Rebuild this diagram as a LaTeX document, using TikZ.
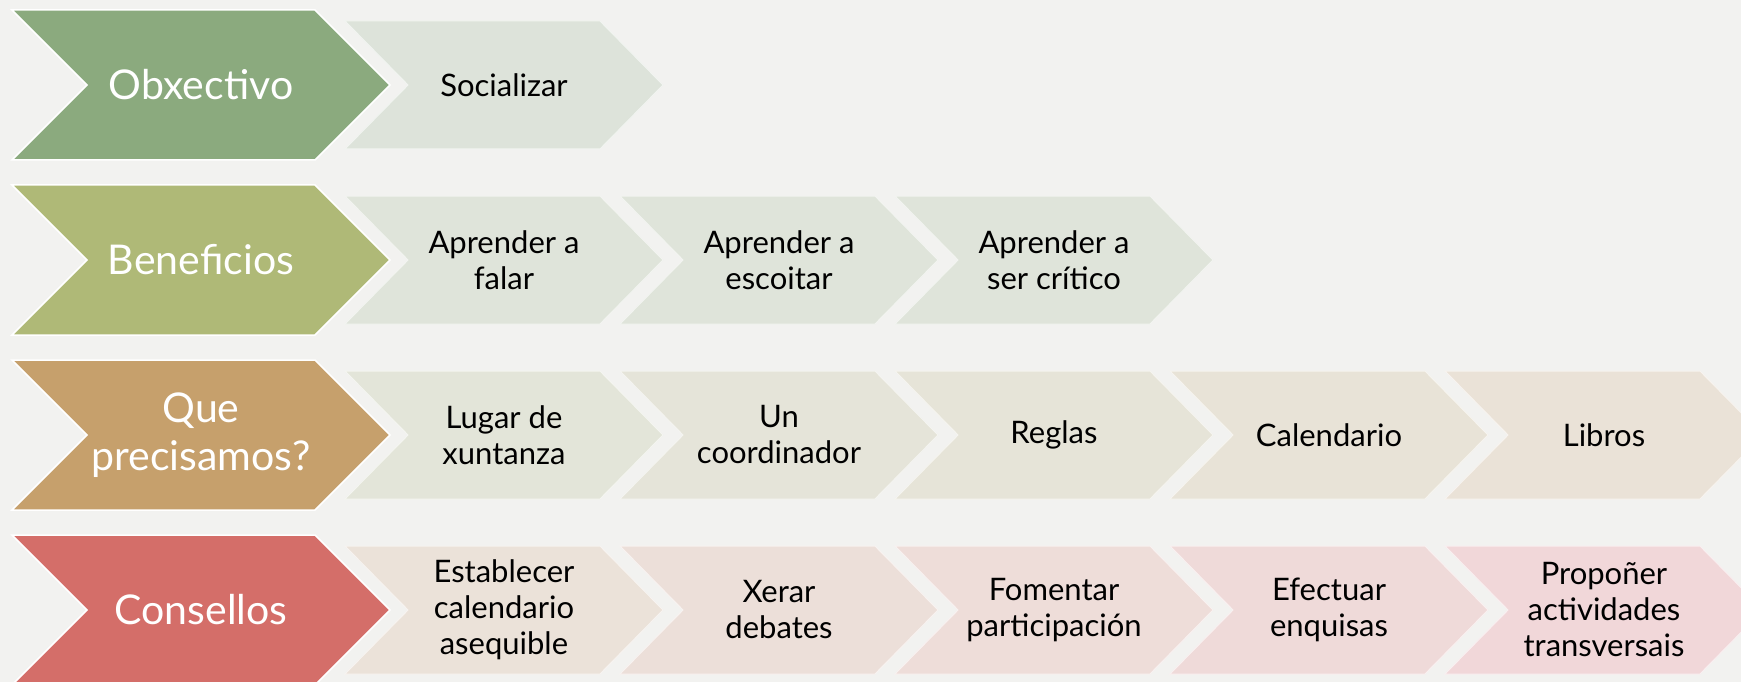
\documentclass[tikz,border=0pt]{standalone}
\usepackage{fontspec}
\setmainfont{Lato}
\definecolor{bg}{HTML}{F2F2F0}
\definecolor{m1}{HTML}{8BAA7E}
\definecolor{m2}{HTML}{AFB977}
\definecolor{m3}{HTML}{C6A06C}
\definecolor{m4}{HTML}{D46E69}
\definecolor{s1}{HTML}{DDE3DA}
\definecolor{s2}{HTML}{DFE4DA}
\definecolor{r3s}{HTML}{E3E5D9}
\definecolor{r3e}{HTML}{EAE2D7}
\definecolor{r4s}{HTML}{EBE2D9}
\definecolor{r4e}{HTML}{F1D7D9}
\colorlet{c31}{r3s}
\colorlet{c32}{r3s!75!r3e}
\colorlet{c33}{r3s!50!r3e}
\colorlet{c34}{r3s!25!r3e}
\colorlet{c35}{r3e}
\colorlet{c41}{r4s}
\colorlet{c42}{r4s!75!r4e}
\colorlet{c43}{r4s!50!r4e}
\colorlet{c44}{r4s!25!r4e}
\colorlet{c45}{r4e}
% #1 left, #2 tip, #3 top, #4 bottom, #5 depth, #6 style
\newcommand{\mychev}[6]{\path[#6] (#1,#3) -- ({#2-#5},#3) -- (#2,{(#3+#4)/2}) -- ({#2-#5},#4) -- (#1,#4) -- ({#1+#5},{(#3+#4)/2}) -- cycle;}
\tikzset{
  mainchev/.style={fill=#1, draw=white, line width=1.5pt, line join=miter},
  subchev/.style={fill=#1, draw=white!60!#1, line width=1pt},
  mainlbl/.style={text=white, align=center, font=\fontsize{41}{48}\selectfont},
  sublbl/.style={text=black, align=center, font=\fontsize{31}{36}\selectfont},
}
\begin{document}
\begin{tikzpicture}[x=1pt,y=-1pt]
\useasboundingbox (0,0) rectangle (1741,682);
\clip (0,0) rectangle (1741,682);
\fill[bg] (0,0) rectangle (1741,682);
% Row 1
\mychev{12}{390}{10}{160}{75}{mainchev=m1}
\node[mainlbl] (o) at (201,85) {Obxectivo};
\mychev{345}{663}{21}{149}{63}{subchev=s1}
\node[sublbl] (o1) at (504,85) {Socializar};
% Row 2
\mychev{12}{390}{185}{335}{75}{mainchev=m2}
\node[mainlbl] (b) at (201,260) {Beneficios};
\mychev{345}{663}{196}{324}{63}{subchev=s2}
\node[sublbl] (b1) at (504,260) {Aprender a\\falar};
\mychev{620}{938}{196}{324}{63}{subchev=s2}
\node[sublbl] (b2) at (779,260) {Aprender a\\escoitar};
\mychev{895}{1213}{196}{324}{63}{subchev=s2}
\node[sublbl] (b3) at (1054,260) {Aprender a\\ser crítico};
% Row 3
\mychev{12}{390}{360}{510}{75}{mainchev=m3}
\node[mainlbl] (q) at (201,435) {Que\\precisamos?};
\mychev{345}{663}{371}{499}{63}{subchev=c31}
\node[sublbl] (q1) at (504,435) {Lugar de\\xuntanza};
\mychev{620}{938}{371}{499}{63}{subchev=c32}
\node[sublbl] (q2) at (779,435) {Un\\coordinador};
\mychev{895}{1213}{371}{499}{63}{subchev=c33}
\node[sublbl] (q3) at (1054,435) {Reglas};
\mychev{1170}{1488}{371}{499}{63}{subchev=c34}
\node[sublbl] (q4) at (1329,435) {Calendario};
\mychev{1445}{1763}{371}{499}{63}{subchev=c35}
\node[sublbl] (q5) at (1604,435) {Libros};
% Row 4
\mychev{12}{390}{535}{685}{75}{mainchev=m4}
\node[mainlbl] (c) at (201,610) {Consellos};
\mychev{345}{663}{546}{674}{63}{subchev=c41}
\node[sublbl] (c1) at (504,610) {Establecer\\calendario\\asequible};
\mychev{620}{938}{546}{674}{63}{subchev=c42}
\node[sublbl] (c2) at (779,610) {Xerar\\debates};
\mychev{895}{1213}{546}{674}{63}{subchev=c43}
\node[sublbl] (c3) at (1054,610) {Fomentar\\participación};
\mychev{1170}{1488}{546}{674}{63}{subchev=c44}
\node[sublbl] (c4) at (1329,610) {Efectuar\\enquisas};
\mychev{1445}{1763}{546}{674}{63}{subchev=c45}
\node[sublbl] (c5) at (1604,610) {Propoñer\\actividades\\transversais};
\end{tikzpicture}
\end{document}
